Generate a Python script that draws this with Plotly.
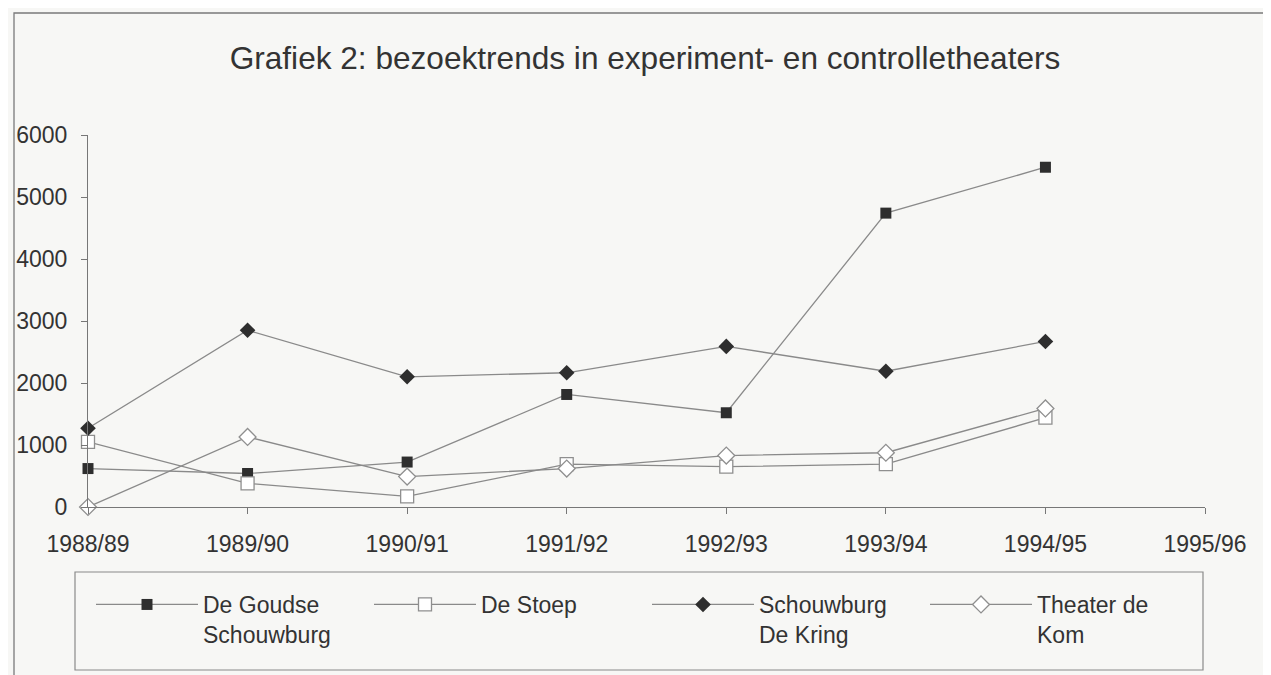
import plotly.graph_objects as go

seasons = ["1988/89", "1989/90", "1990/91", "1991/92", "1992/93", "1993/94", "1994/95", "1995/96"]
goudse = [620, 540, 725, 1815, 1520, 4740, 5480]
stoep = [1050, 380, 170, 690, 650, 690, 1440]
kring = [1270, 2850, 2100, 2165, 2590, 2190, 2670]
kom = [0, 1130, 490, 620, 830, 875, 1590]

names = ["De Goudse<br>Schouwburg", "De Stoep", "Schouwburg<br>De Kring", "Theater de<br>Kom"]
symbols = ["square", "square", "diamond", "diamond"]
filled = [True, False, True, False]
sizes = [11, 13, 12, 13]

LINE = "#8a8a8a"
DARK = "#2e2e2e"
BG = "#f7f7f5"
FONT = "Liberation Sans, Arial, sans-serif"

# page offset: browser body margin is 8px
OFF = 8
W, H = 1271 - OFF, 675 - OFF
# plot area in page px
L, R, T, B = 88, 1205, 135, 507
pw, ph = R - L, B - T

def px_x(x):
    return (x - L) / pw

def px_y(y):
    return (B - y) / ph

fig = go.Figure()
for name, vals, sym, fil, sz in zip(names, [goudse, stoep, kring, kom], symbols, filled, sizes):
    fig.add_trace(go.Scatter(
        x=seasons[:len(vals)], y=vals, name=name, mode="lines+markers",
        line=dict(color=LINE, width=1.3),
        marker=dict(symbol=sym, size=sz,
                    color=DARK if fil else "#ffffff",
                    line=dict(color=DARK if fil else "#8f8f8f", width=0 if fil else 1.3)),
        cliponaxis=False,
    ))

shapes = [
    dict(type="rect", xref="paper", yref="paper", x0=px_x(14), x1=px_x(1268), y0=px_y(720), y1=px_y(13),
         line=dict(color="#7a7a7a", width=1.3), fillcolor="rgba(0,0,0,0)", layer="below"),
    dict(type="rect", xref="paper", yref="paper", x0=px_x(75), x1=px_x(1203), y0=px_y(670), y1=px_y(572),
         line=dict(color="#8a8a8a", width=1.2), fillcolor="rgba(0,0,0,0)", layer="below"),
]

fig.update_layout(
    width=W, height=H,
    margin=dict(l=L - OFF, r=W - (R - OFF), t=T - OFF, b=H - (B - OFF), pad=0, autoexpand=False),
    paper_bgcolor=BG, plot_bgcolor=BG,
    font=dict(family=FONT, color="#333333"),
    title=dict(text="Grafiek 2: bezoektrends in experiment- en controlletheaters",
               x=px_x(645), xref="paper", xanchor="center", y=1 - (58 - OFF) / H, yanchor="middle",
               font=dict(family=FONT, size=31.6, color="#333333")),
    showlegend=True,
    legend=dict(orientation="h", x=px_x(91), y=px_y(583), xanchor="left", yanchor="top",
                font=dict(size=23, family=FONT, color="#333333"),
                itemwidth=102, entrywidth=161, entrywidthmode="pixels",
                bgcolor="rgba(0,0,0,0)", borderwidth=0, itemsizing="trace", valign="top"),
    shapes=shapes,
)

fig.update_xaxes(type="category", categoryorder="array", categoryarray=seasons,
                 range=[0, len(seasons) - 1], showgrid=False, zeroline=False,
                 showline=True, linecolor="#777777", linewidth=1.2,
                 ticks="outside", ticklen=6, tickcolor="#777777",
                 ticklabelstandoff=10,
                 tickfont=dict(size=23, family=FONT, color="#333333"))
fig.update_yaxes(range=[0, 6000], tickvals=[0, 1000, 2000, 3000, 4000, 5000, 6000],
                 showgrid=False, zeroline=False,
                 showline=True, linecolor="#777777", linewidth=1.2,
                 ticks="outside", ticklen=6, tickcolor="#777777",
                 ticklabelstandoff=9,
                 tickfont=dict(size=23, family=FONT, color="#333333"))

fig.write_html("out.html")
